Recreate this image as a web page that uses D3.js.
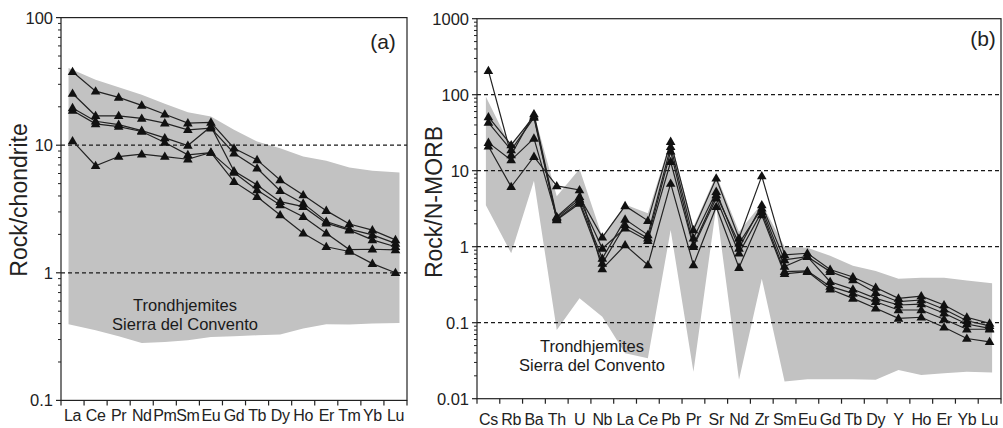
<!DOCTYPE html>
<html><head><meta charset="utf-8">
<script src="https://cdn.jsdelivr.net/npm/d3@7/dist/d3.min.js"></script>
<style>body{margin:0;background:#fff}svg{display:block;font-family:"Liberation Sans",Arial,sans-serif}</style>
</head><body><svg id="c" width="1003" height="428"></svg>
<script>
// ---------- Panel (a): chondrite-normalised REE ----------
const reeLabels = ["La","Ce","Pr","Nd","Pm","Sm","Eu","Gd","Tb","Dy","Ho","Er","Tm","Yb","Lu"];
const reeS1 = [37.6,26.5,23.7,20.5,17.5,14.9,15.1,9.47,7.67,5.34,4.07,3.07,2.41,2.16,1.81];
const reeS2 = [25.4,17.0,17.0,16.2,14.9,13.2,13.6,8.65,6.6,4.4,3.5,2.52,2.2,1.98,1.7];
const reeS3 = [19.6,15.4,14.5,13.0,11.4,9.94,14.0,6.28,4.88,3.61,3.3,2.45,2.16,1.81,1.6];
const reeS4 = [18.7,14.7,14.0,12.8,10.5,8.4,8.76,6.1,4.46,3.4,2.75,2.04,1.52,1.53,1.51];
const reeS5 = [10.8,6.9,8.15,8.5,8.15,7.76,8.76,5.18,3.95,2.84,2.04,1.6,1.47,1.18,1.0];
const reeUpper = [40.3,32.6,28.5,24.8,21.1,18.1,16.8,13.2,10.7,9.47,8.15,7.54,6.68,6.32,6.1];
const reeLower = [0.395,0.355,0.318,0.282,0.287,0.296,0.314,0.318,0.324,0.328,0.366,0.395,0.393,0.40,0.405];
const reeTicks = [0.1,1,10,100];
const reeTickLabels = ["0.1","1","10","100"];

// ---------- Panel (b): N-MORB-normalised spider diagram ----------
const spLabels = ["Cs","Rb","Ba","Th","U","Nb","La","Ce","Pb","Pr","Sr","Nd","Zr","Sm","Eu","Gd","Tb","Dy","Y","Ho","Er","Yb","Lu"];
const spS1 = [207,16.1,55.7,2.48,4.55,1.33,3.44,2.2,24.1,1.66,7.94,1.29,8.5,0.78,0.82,0.50,0.40,0.29,0.209,0.224,0.171,0.118,0.098];
const spS2 = [51,21.8,52,2.3,3.9,0.70,2.29,1.43,20.7,1.29,5.3,0.95,3.54,0.67,0.74,0.47,0.364,0.248,0.189,0.199,0.15,0.106,0.091];
const spS3 = [43,18.7,50,2.24,3.7,0.60,1.93,1.29,18.0,1.05,4.79,1.11,3.2,0.55,0.74,0.346,0.275,0.209,0.171,0.176,0.133,0.096,0.084];
const spS4 = [23.4,13.8,26.6,2.4,4.2,0.95,1.75,1.2,13.1,1.0,4.33,0.82,2.89,0.47,0.48,0.30,0.243,0.189,0.147,0.147,0.111,0.082,0.082];
const spS5 = [21,6.15,15.3,6.3,5.57,0.51,1.05,0.574,6.8,0.574,3.36,0.53,2.61,0.44,0.47,0.275,0.209,0.155,0.114,0.118,0.087,0.062,0.056];
const spUpper = [94,20,57,4.6,10.5,1.35,3.6,2.75,25.4,1.83,8.8,1.57,3.7,1.0,0.97,0.76,0.56,0.48,0.38,0.39,0.39,0.36,0.33];
const spLower = [3.5,0.82,7.4,0.080,0.209,0.12,0.0395,0.034,1.66,0.0227,3.36,0.0178,0.38,0.0168,0.018,0.018,0.018,0.0178,0.0239,0.0205,0.0216,0.0227,0.0222];
const spTicks = [0.01,0.1,1,10,100,1000];
const spTickLabels = ["0.01","0.1","1","10","100","1000"];

const svg = d3.select("#c");

function panel(cfg){
  const g = svg.append("g");
  const x = d3.scaleBand().domain(cfg.labels).range([cfg.x0,cfg.x1]).padding(0);
  const y = d3.scaleLog().domain(cfg.domain).range([cfg.yBot,cfg.yTop]);
  const bw = x.bandwidth();
  const cx = c => x(c)+bw/2;
  const n = cfg.labels.length;

  // envelope
  const envX = (c,i) => cx(c) + (i===0 ? -cfg.envPad : (i===n-1 ? cfg.envPad : 0));
  const pts = cfg.labels.map((c,i)=>[envX(c,i), y(cfg.upper[i])])
    .concat(cfg.labels.map((c,i)=>[envX(c,i), y(cfg.lower[i])]).reverse());
  g.append("path").attr("d", d3.line()(pts)+"Z").attr("fill","#c2c2c2").attr("stroke","none");

  // dashed reference lines
  cfg.dashed.forEach(v=>{
    g.append("line").attr("x1",cfg.x0).attr("x2",cfg.x1).attr("y1",y(v)).attr("y2",y(v))
      .attr("stroke","#1a1a1a").attr("stroke-width",1.3).attr("stroke-dasharray","4,3");
  });

  // panel text
  cfg.text.forEach((t,i)=>{
    g.append("text").attr("x",cfg.textX).attr("y",cfg.textY+i*cfg.textDy).attr("text-anchor","middle")
      .attr("font-size",16.5).attr("fill","#1a1a1a").text(t);
  });

  // series
  const line = d3.line().x((d,i)=>cx(cfg.labels[i])).y(d=>y(d));
  const tri = d3.symbol(d3.symbolTriangle, 40);
  cfg.series.forEach(s=>{
    g.append("path").attr("d",line(s)).attr("fill","none").attr("stroke","#222").attr("stroke-width",1.2);
  });
  cfg.series.forEach(s=>{
    g.selectAll(null).data(s).enter().append("path")
      .attr("d",tri).attr("transform",(d,i)=>`translate(${cx(cfg.labels[i])},${y(d)+0.5})`)
      .attr("fill","#111");
  });

  // frame
  g.append("rect").attr("x",cfg.x0).attr("y",cfg.yTop).attr("width",cfg.x1-cfg.x0).attr("height",cfg.yBot-cfg.yTop)
    .attr("fill","none").attr("stroke","#222").attr("stroke-width",1.2);

  // y axis ticks
  const lo = Math.log10(cfg.domain[0]), hi = Math.log10(cfg.domain[1]);
  for(let k=lo;k<hi;k++){
    for(let m=2;m<=9;m++){
      const v = m*Math.pow(10,k);
      g.append("line").attr("x1",cfg.x0-3).attr("x2",cfg.x0).attr("y1",y(v)).attr("y2",y(v)).attr("stroke","#222").attr("stroke-width",1);
    }
  }
  cfg.ticks.forEach((v,i)=>{
    g.append("line").attr("x1",cfg.x0-5).attr("x2",cfg.x0).attr("y1",y(v)).attr("y2",y(v)).attr("stroke","#222").attr("stroke-width",1.2);
    g.append("text").attr("x",cfg.x0-8).attr("y",y(v)).attr("dy","0.36em").attr("text-anchor","end")
      .attr("font-size",16.5).attr("fill","#222").text(cfg.tickLabels[i]);
  });

  // x axis ticks at band edges
  const edges = cfg.labels.map(c=>x(c)).concat([cfg.x1]);
  edges.forEach(e=>{
    g.append("line").attr("x1",e).attr("x2",e).attr("y1",cfg.yBot).attr("y2",cfg.yBot+5).attr("stroke","#222").attr("stroke-width",1.2);
  });
  cfg.labels.forEach(c=>{
    g.append("text").attr("x",cx(c)).attr("y",cfg.xLabY).attr("text-anchor","middle")
      .attr("font-size",16).attr("letter-spacing","-0.4").attr("fill","#222").text(c);
  });

  // y title
  g.append("text").attr("transform",`translate(${cfg.titleX},${cfg.titleY}) rotate(-90)`)
    .attr("text-anchor","middle").attr("font-size",23).attr("fill","#222").text(cfg.title);

  // panel tag
  g.append("text").attr("x",cfg.tagX).attr("y",cfg.tagY).attr("text-anchor","middle")
    .attr("font-size",21).attr("fill","#222").text(cfg.tag);
}

panel({
  labels: reeLabels, series:[reeS1,reeS2,reeS3,reeS4,reeS5], upper: reeUpper, lower: reeLower,
  domain:[0.1,100], x0:61, x1:407, yTop:17.6, yBot:400.4, envPad:4,
  dashed:[10,1], ticks: reeTicks, tickLabels: reeTickLabels,
  text:["Trondhjemites","Sierra del Convento"], textX:185, textY:311, textDy:18.5,
  xLabY:420.5, title:"Rock/chondrite", titleX:26.5, titleY:200, tag:"(a)", tagX:383, tagY:49
});
panel({
  labels: spLabels, series:[spS1,spS2,spS3,spS4,spS5], upper: spUpper, lower: spLower,
  domain:[0.01,1000], x0:477, x1:1001, yTop:18.7, yBot:398.7, envPad:2.5,
  dashed:[100,10,1,0.1], ticks: spTicks, tickLabels: spTickLabels,
  text:["Trondhjemites","Sierra del Convento"], textX:592, textY:351.5, textDy:19,
  xLabY:424.5, title:"Rock/N-MORB", titleX:442, titleY:202, tag:"(b)", tagX:983, tagY:46
});
</script></body></html>
